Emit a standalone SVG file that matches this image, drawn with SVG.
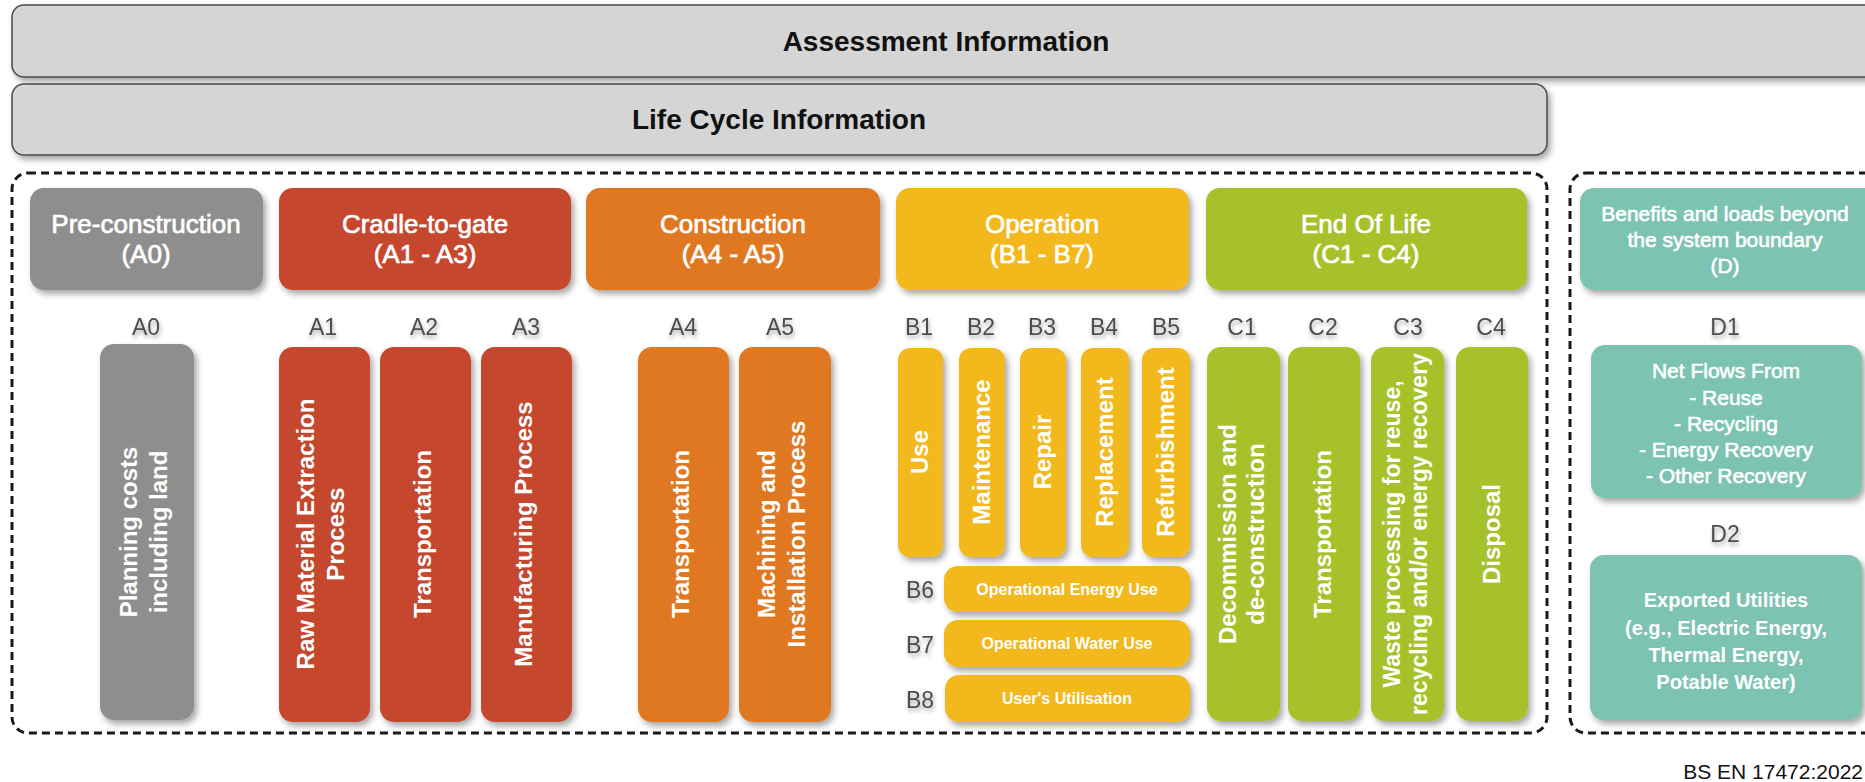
<svg xmlns="http://www.w3.org/2000/svg" width="1865" height="782" viewBox="0 0 1865 782">
<defs>
<filter id="sh" x="-10%" y="-10%" width="130%" height="130%"><feDropShadow dx="3" dy="4" stdDeviation="3" flood-color="#000" flood-opacity="0.35"/></filter>
<filter id="tsh" x="-20%" y="-20%" width="150%" height="170%"><feDropShadow dx="1" dy="3" stdDeviation="2" flood-color="#000" flood-opacity="0.35"/></filter>
<style>
text{font-family:"Liberation Sans",Arial,sans-serif}
.top{fill:#d5d5d5;stroke:#4a4a4a;stroke-width:1.5}
.ttl{font-size:28px;font-weight:bold;fill:#111;text-anchor:middle}
.dash{fill:none;stroke:#1a1a1a;stroke-width:3;stroke-dasharray:8 5}
.hd{font-size:26px;fill:#fff;stroke:#fff;stroke-width:0.7;text-anchor:middle}
.vt{font-size:24px;font-weight:bold;fill:#fff;text-anchor:middle}
.hz{font-size:16px;font-weight:bold;fill:#fff;text-anchor:middle}
.lb{font-size:23px;fill:#4d4d4d;text-anchor:middle}
.dt{font-size:21px;fill:#fff;stroke:#fff;stroke-width:0.6;text-anchor:middle}
.d2{font-size:20px;font-weight:bold;fill:#fff;text-anchor:middle}
.g{fill:#8e8e8e}.r{fill:#c5472f}.o{fill:#e07822}.y{fill:#f2b81d}.gr{fill:#a7c12c}.t{fill:#7cc3b1}
</style>
</defs>
<rect width="1865" height="782" fill="#fff"/>

<g id="assessment"><rect class="top" x="12" y="5" width="1880" height="72" rx="12" filter="url(#sh)"/><text class="ttl" x="946" y="51">Assessment Information</text></g>
<g id="lifecycle"><rect class="top" x="12" y="84" width="1535" height="71" rx="12" filter="url(#sh)"/><text class="ttl" x="779" y="129">Life Cycle Information</text></g>

<g id="boundaries">
<rect class="dash" x="12" y="173" width="1535" height="560" rx="16"/>
<rect class="dash" x="1570" y="173" width="320" height="560" rx="16"/>
</g>

<g id="h-pre"><rect class="g" x="30" y="188" width="233" height="102" rx="14" filter="url(#sh)"/><text class="hd" x="146" y="233">Pre-construction</text><text class="hd" x="146" y="263">(A0)</text></g>
<g id="h-cradle"><rect class="r" x="279" y="188" width="292" height="102" rx="14" filter="url(#sh)"/><text class="hd" x="425" y="233">Cradle-to-gate</text><text class="hd" x="425" y="263">(A1 - A3)</text></g>
<g id="h-constr"><rect class="o" x="586" y="188" width="294" height="102" rx="14" filter="url(#sh)"/><text class="hd" x="733" y="233">Construction</text><text class="hd" x="733" y="263">(A4 - A5)</text></g>
<g id="h-oper"><rect class="y" x="896" y="188" width="293" height="102" rx="14" filter="url(#sh)"/><text class="hd" x="1042" y="233">Operation</text><text class="hd" x="1042" y="263">(B1 - B7)</text></g>
<g id="h-eol"><rect class="gr" x="1206" y="188" width="321" height="102" rx="14" filter="url(#sh)"/><text class="hd" x="1366" y="233">End Of Life</text><text class="hd" x="1366" y="263">(C1 - C4)</text></g>
<g id="h-d"><rect class="t" x="1580" y="188" width="300" height="102" rx="14" filter="url(#sh)"/><text class="dt" x="1725" y="221">Benefits and loads beyond</text><text class="dt" x="1725" y="247">the system boundary</text><text class="dt" x="1725" y="273">(D)</text></g>

<g id="labels" filter="url(#tsh)">
<text class="lb" x="146" y="335">A0</text><text class="lb" x="323" y="335">A1</text><text class="lb" x="424" y="335">A2</text><text class="lb" x="526" y="335">A3</text>
<text class="lb" x="683" y="335">A4</text><text class="lb" x="780" y="335">A5</text>
<text class="lb" x="919" y="335">B1</text><text class="lb" x="981" y="335">B2</text><text class="lb" x="1042" y="335">B3</text><text class="lb" x="1104" y="335">B4</text><text class="lb" x="1166" y="335">B5</text>
<text class="lb" x="1242" y="335">C1</text><text class="lb" x="1323" y="335">C2</text><text class="lb" x="1408" y="335">C3</text><text class="lb" x="1491" y="335">C4</text>
<text class="lb" x="1725" y="335">D1</text><text class="lb" x="1725" y="542">D2</text>
<text class="lb" x="920" y="598">B6</text><text class="lb" x="920" y="653">B7</text><text class="lb" x="920" y="708">B8</text>
</g>

<g id="A0"><rect class="g" x="100" y="344" width="94" height="376" rx="14" filter="url(#sh)"/><text class="vt" transform="translate(147,532) rotate(-90)"><tspan x="0" y="-10">Planning costs</tspan><tspan x="0" y="20">including land</tspan></text></g>
<g id="A1"><rect class="r" x="279" y="347" width="91" height="375" rx="14" filter="url(#sh)"/><text class="vt" transform="translate(324,534) rotate(-90)"><tspan x="0" y="-10">Raw Material Extraction</tspan><tspan x="0" y="20">Process</tspan></text></g>
<g id="A2"><rect class="r" x="380" y="347" width="91" height="375" rx="14" filter="url(#sh)"/><text class="vt" transform="translate(425,534) rotate(-90)" y="6">Transportation</text></g>
<g id="A3"><rect class="r" x="481" y="347" width="91" height="375" rx="14" filter="url(#sh)"/><text class="vt" transform="translate(526,534) rotate(-90)" y="6">Manufacturing Process</text></g>
<g id="A4"><rect class="o" x="638" y="347" width="91" height="375" rx="14" filter="url(#sh)"/><text class="vt" transform="translate(683,534) rotate(-90)" y="6">Transportation</text></g>
<g id="A5"><rect class="o" x="739" y="347" width="92" height="375" rx="14" filter="url(#sh)"/><text class="vt" transform="translate(785,534) rotate(-90)"><tspan x="0" y="-10">Machining and</tspan><tspan x="0" y="20">Installation Process</tspan></text></g>

<g id="B1"><rect class="y" x="898" y="348" width="45" height="209" rx="12" filter="url(#sh)"/><text class="vt" transform="translate(920,452) rotate(-90)" y="8">Use</text></g>
<g id="B2"><rect class="y" x="959" y="348" width="46" height="209" rx="12" filter="url(#sh)"/><text class="vt" transform="translate(982,452) rotate(-90)" y="8">Maintenance</text></g>
<g id="B3"><rect class="y" x="1020" y="348" width="46" height="209" rx="12" filter="url(#sh)"/><text class="vt" transform="translate(1043,452) rotate(-90)" y="8">Repair</text></g>
<g id="B4"><rect class="y" x="1081" y="348" width="48" height="209" rx="12" filter="url(#sh)"/><text class="vt" transform="translate(1105,452) rotate(-90)" y="8">Replacement</text></g>
<g id="B5"><rect class="y" x="1142" y="348" width="48" height="209" rx="12" filter="url(#sh)"/><text class="vt" transform="translate(1166,452) rotate(-90)" y="8">Refurbishment</text></g>
<g id="B6"><rect class="y" x="944" y="566" width="246" height="46" rx="14" filter="url(#sh)"/><text class="hz" x="1067" y="595">Operational Energy Use</text></g>
<g id="B7"><rect class="y" x="944" y="620" width="246" height="47" rx="14" filter="url(#sh)"/><text class="hz" x="1067" y="649">Operational Water Use</text></g>
<g id="B8"><rect class="y" x="945" y="675" width="245" height="47" rx="14" filter="url(#sh)"/><text class="hz" x="1067" y="704">User's Utilisation</text></g>

<g id="C1"><rect class="gr" x="1207" y="347" width="73" height="374" rx="14" filter="url(#sh)"/><text class="vt" transform="translate(1243,534) rotate(-90)"><tspan x="0" y="-7">Decommission and</tspan><tspan x="0" y="21">de-construction</tspan></text></g>
<g id="C2"><rect class="gr" x="1288" y="347" width="72" height="374" rx="14" filter="url(#sh)"/><text class="vt" transform="translate(1324,534) rotate(-90)" y="7">Transportation</text></g>
<g id="C3"><rect class="gr" x="1371" y="347" width="73" height="374" rx="14" filter="url(#sh)"/><text class="vt" style="font-size:23px" transform="translate(1407,534) rotate(-90)"><tspan x="0" y="-7">Waste processing for reuse,</tspan><tspan x="0" y="20">recycling and/or energy recovery</tspan></text></g>
<g id="C4"><rect class="gr" x="1456" y="347" width="72" height="374" rx="14" filter="url(#sh)"/><text class="vt" transform="translate(1492,534) rotate(-90)" y="8">Disposal</text></g>

<g id="D1"><rect class="t" x="1591" y="345" width="271" height="153" rx="14" filter="url(#sh)"/>
<text class="dt" x="1726" y="378">Net Flows From</text><text class="dt" x="1726" y="405">- Reuse</text><text class="dt" x="1726" y="431">- Recycling</text><text class="dt" x="1726" y="457">- Energy Recovery</text><text class="dt" x="1726" y="483">- Other Recovery</text></g>
<g id="D2"><rect class="t" x="1590" y="555" width="272" height="165" rx="14" filter="url(#sh)"/>
<text class="d2" x="1726" y="607">Exported Utilities</text><text class="d2" x="1726" y="635">(e.g., Electric Energy,</text><text class="d2" x="1726" y="662">Thermal Energy,</text><text class="d2" x="1726" y="689">Potable Water)</text></g>

<g id="connectors"></g>
<text x="1863" y="779" style="font-size:21px;fill:#111;text-anchor:end">BS EN 17472:2022</text>
</svg>
